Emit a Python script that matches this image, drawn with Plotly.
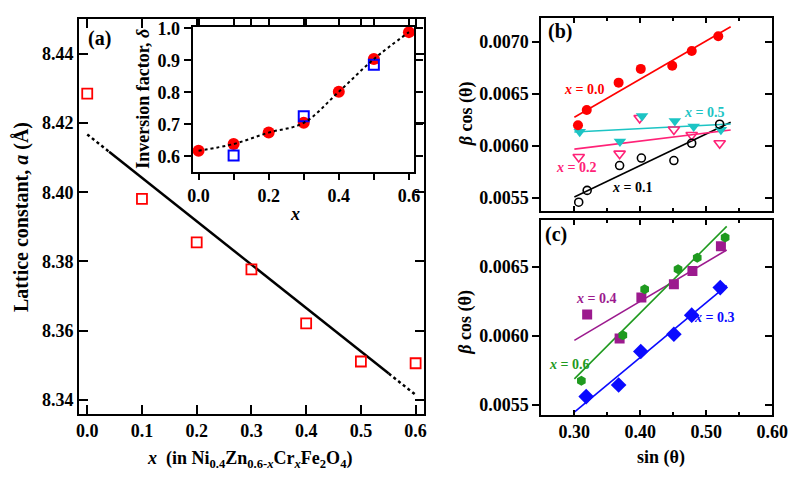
import numpy as np
import plotly.graph_objects as go

W, H = 808, 477

# ---------------- data ----------------
# Panel (a): lattice constant vs Cr content x
x_comp = [0.0, 0.1, 0.2, 0.3, 0.4, 0.5, 0.6]
lattice_a = [8.4285, 8.3981, 8.3855, 8.3777, 8.3621, 8.3511, 8.3506]

# Inset: inversion factor
x_inv_fill = [0.0, 0.1, 0.2, 0.3, 0.4, 0.5, 0.6]
delta_fill = [0.618, 0.639, 0.6745, 0.705, 0.802, 0.904, 0.988]
x_inv_sq = [0.1, 0.3, 0.5]
delta_sq = [0.603, 0.7255, 0.8865]

# Panel (b): Williamson-Hall, beta cos(theta) vs sin(theta)
sin_x00 = [0.3055, 0.3188, 0.3671, 0.4007, 0.4484, 0.4780, 0.5182]
bc_x00 = [0.006198, 0.006345, 0.006607, 0.006739, 0.006770, 0.006911, 0.007053]
sin_x01 = [0.3066, 0.3194, 0.3686, 0.4016, 0.4509, 0.4779, 0.5203]
bc_x01 = [0.005459, 0.005572, 0.005811, 0.005883, 0.005859, 0.006025, 0.006208]
sin_x02 = [0.3066, 0.3686, 0.3990, 0.4509, 0.4779, 0.5203]
bc_x02 = [0.005893, 0.005925, 0.006267, 0.006157, 0.006104, 0.006025]
sin_x05 = [0.3081, 0.3691, 0.4026, 0.4524, 0.4809, 0.5222]
bc_x05 = [0.006135, 0.006041, 0.006286, 0.006239, 0.006185, 0.006154]

# Panel (c)
sin_x04 = [0.3194, 0.3686, 0.4016, 0.4509, 0.4790, 0.5222]
bc_x04 = [0.006154, 0.005981, 0.006279, 0.006374, 0.006471, 0.006650]
sin_x06 = [0.3106, 0.3735, 0.4066, 0.4572, 0.4863, 0.5286]
bc_x06 = [0.005674, 0.006004, 0.006338, 0.006483, 0.006566, 0.006714]
sin_x03 = [0.3179, 0.3671, 0.4007, 0.4509, 0.4779, 0.5212]
bc_x03 = [0.005559, 0.005643, 0.005886, 0.006011, 0.006150, 0.006350]

# fit ranges
fit_a_solid = [0.04, 0.551]
fit_b_range = [0.30, 0.537]
fit_c_range = [0.30, 0.531]

# ---------------- style ----------------
FONT = "Liberation Serif"
RED = "#ff0000"
BLUE = "#0000ff"
PINK = "#ff2277"
CYAN = "#1cc4c4"
PURPLE = "#9c1a8e"
GREEN = "#1f9a1f"
BLUE2 = "#0a0aff"

def px(xp):
    return xp / W

def py(yp):
    return 1 - yp / H

fig = go.Figure()

# ---- panel (a)
ca = np.polyfit(x_comp, lattice_a, 1)
def fa(xx):
    return np.polyval(ca, np.array(xx))

xs_dot1 = np.array([x_comp[0], fit_a_solid[0]])
xs_sol = np.array(fit_a_solid)
xs_dot2 = np.array([fit_a_solid[1], x_comp[-1]])
fig.add_trace(go.Scatter(x=xs_dot1, y=fa(xs_dot1), mode="lines",
                         line=dict(color="black", width=2.5, dash="dot"),
                         xaxis="x", yaxis="y", showlegend=False))
fig.add_trace(go.Scatter(x=xs_sol, y=fa(xs_sol), mode="lines",
                         line=dict(color="black", width=2.5),
                         xaxis="x", yaxis="y", showlegend=False))
fig.add_trace(go.Scatter(x=xs_dot2, y=fa(xs_dot2), mode="lines",
                         line=dict(color="black", width=2.5, dash="dot"),
                         xaxis="x", yaxis="y", showlegend=False))
fig.add_trace(go.Scatter(x=x_comp, y=lattice_a, mode="markers",
                         marker=dict(symbol="square-open", size=10, color=RED,
                                     line=dict(width=1.8, color=RED)),
                         xaxis="x", yaxis="y", showlegend=False))

# ---- inset
fig.add_trace(go.Scatter(x=x_inv_fill, y=delta_fill, mode="markers",
                         marker=dict(symbol="circle", size=12, color=RED),
                         xaxis="x2", yaxis="y2", showlegend=False))
fig.add_trace(go.Scatter(x=x_inv_sq, y=delta_sq, mode="markers",
                         marker=dict(symbol="square-open", size=10, color=BLUE,
                                     line=dict(width=2, color=BLUE)),
                         xaxis="x2", yaxis="y2", showlegend=False))
fig.add_trace(go.Scatter(x=x_inv_fill, y=delta_fill, mode="lines",
                         line=dict(color="black", width=2, dash="dot", shape="spline"),
                         xaxis="x2", yaxis="y2", showlegend=False))

# ---- panels (b) & (c): fits + markers
def fit_line(xv, yv, xr, color, xa, ya):
    c = np.polyfit(xv, yv, 1)
    xx = np.array(xr)
    fig.add_trace(go.Scatter(x=xx, y=np.polyval(c, xx), mode="lines",
                             line=dict(color=color, width=1.6),
                             xaxis=xa, yaxis=ya, showlegend=False))

fit_line(sin_x00, bc_x00, fit_b_range, RED, "x3", "y3")
fit_line(sin_x01, bc_x01, fit_b_range, "black", "x3", "y3")
fit_line(sin_x02, bc_x02, fit_b_range, PINK, "x3", "y3")
fit_line(sin_x05, bc_x05, fit_b_range, CYAN, "x3", "y3")

fig.add_trace(go.Scatter(x=sin_x02, y=bc_x02, mode="markers",
                         marker=dict(symbol="triangle-down-open", size=10, color=PINK,
                                     line=dict(width=1.6, color=PINK)),
                         xaxis="x3", yaxis="y3", showlegend=False))
fig.add_trace(go.Scatter(x=sin_x05, y=bc_x05, mode="markers",
                         marker=dict(symbol="triangle-down", size=11, color=CYAN),
                         xaxis="x3", yaxis="y3", showlegend=False))
fig.add_trace(go.Scatter(x=sin_x00, y=bc_x00, mode="markers",
                         marker=dict(symbol="circle", size=10, color=RED),
                         xaxis="x3", yaxis="y3", showlegend=False))
fig.add_trace(go.Scatter(x=sin_x01, y=bc_x01, mode="markers",
                         marker=dict(symbol="circle-open", size=8, color="black",
                                     line=dict(width=1.6, color="black")),
                         xaxis="x3", yaxis="y3", showlegend=False))

fit_line(sin_x04, bc_x04, fit_c_range, PURPLE, "x4", "y4")
fit_line(sin_x06, bc_x06, fit_c_range, GREEN, "x4", "y4")
fit_line(sin_x03, bc_x03, fit_c_range, BLUE2, "x4", "y4")

fig.add_trace(go.Scatter(x=sin_x04, y=bc_x04, mode="markers",
                         marker=dict(symbol="square", size=10, color=PURPLE),
                         xaxis="x4", yaxis="y4", showlegend=False))
fig.add_trace(go.Scatter(x=sin_x06, y=bc_x06, mode="markers",
                         marker=dict(symbol="hexagon", size=10, color=GREEN),
                         xaxis="x4", yaxis="y4", showlegend=False))
fig.add_trace(go.Scatter(x=sin_x03, y=bc_x03, mode="markers",
                         marker=dict(symbol="diamond", size=12, color=BLUE2),
                         xaxis="x4", yaxis="y4", showlegend=False))

# invisible traces so the right-side tick overlays render
fig.add_trace(go.Scatter(x=[], y=[], xaxis="x3", yaxis="y5", showlegend=False))
fig.add_trace(go.Scatter(x=[], y=[], xaxis="x4", yaxis="y6", showlegend=False))

# ---------------- axes ----------------
tickfont = dict(family=FONT, size=18, color="black", weight="bold")

dom_a_x = [px(76), px(430)]
dom_a_y = [py(412.7), py(11)]
dom_in_x = [px(192.7), px(420)]
dom_in_y = [py(167), py(19)]
dom_bc_x = [px(550.7), px(787.7)]
dom_b_y = [py(206.5), py(10)]
dom_c_y = [py(413.5), py(215.5)]

common = dict(showgrid=False, zeroline=False, showline=True, linecolor="black",
              tickcolor="black", tickfont=tickfont)

fig.update_layout(
    xaxis=dict(domain=dom_a_x, anchor="y", range=[-0.015, 0.615],
               tickmode="array", tickvals=x_comp, tickformat=".1f",
               ticks="inside", ticklen=9, tickwidth=2, linewidth=2,
               mirror="ticks", **common),
    yaxis=dict(domain=dom_a_y, anchor="x", range=[8.336, 8.4501],
               dtick=0.02, tick0=8.34, tickformat=".2f",
               ticks="inside", ticklen=9, tickwidth=2, linewidth=2,
               mirror="ticks", **common),
    xaxis2=dict(domain=dom_in_x, anchor="y2", range=[-0.0167, 0.6147],
                dtick=0.2, tick0=0, tickformat=".1f",
                ticks="outside", ticklen=6, tickwidth=2, linewidth=2,
                minor=dict(dtick=0.1, ticks="outside", ticklen=6, tickwidth=2,
                           tickcolor="black"),
                mirror="ticks", **common),
    yaxis2=dict(domain=dom_in_y, anchor="x2", range=[0.551, 1.005],
                dtick=0.1, tick0=0.6, tickformat=".1f",
                ticks="outside", ticklen=7, tickwidth=2, linewidth=2,
                mirror="ticks", **common),
    xaxis3=dict(domain=dom_bc_x, anchor="y3", range=[0.25, 0.60],
                dtick=0.1, tick0=0.3, showticklabels=False,
                ticks="inside", ticklen=5, tickwidth=1.5, linewidth=2,
                minor=dict(dtick=0.05, ticks="inside", ticklen=3, tickwidth=1.5,
                           tickcolor="black"),
                mirror="ticks", **common),
    yaxis3=dict(domain=dom_b_y, anchor="x3", range=[0.005374, 0.0072293],
                dtick=0.0005, tick0=0.0055, tickformat=".4f",
                ticks="outside", ticklen=7, tickwidth=1.5, linewidth=2,
                mirror=True, **common),
    yaxis5=dict(overlaying="y3", anchor="x3", side="right",
                range=[0.005374, 0.0072293], dtick=0.0005, tick0=0.0055,
                ticks="inside", ticklen=7, tickwidth=1.5, tickcolor="black",
                showticklabels=False, showgrid=False, zeroline=False, showline=False),
    xaxis4=dict(domain=dom_bc_x, anchor="y4", range=[0.25, 0.60],
                dtick=0.1, tick0=0.3, tickformat=".2f",
                ticks="inside", ticklen=5, tickwidth=1.5, linewidth=2,
                minor=dict(dtick=0.05, ticks="inside", ticklen=3, tickwidth=1.5,
                           tickcolor="black"),
                mirror="ticks", **common),
    yaxis4=dict(domain=dom_c_y, anchor="x4", range=[0.0054286, 0.0068414],
                dtick=0.0005, tick0=0.0055, tickformat=".4f",
                ticks="outside", ticklen=7, tickwidth=1.5, linewidth=2,
                mirror=True, **common),
    yaxis6=dict(overlaying="y4", anchor="x4", side="right",
                range=[0.0054286, 0.0068414], dtick=0.0005, tick0=0.0055,
                ticks="inside", ticklen=7, tickwidth=1.5, tickcolor="black",
                showticklabels=False, showgrid=False, zeroline=False, showline=False),
)

# ---------------- text ----------------
def ann(text, xp, yp, size=18, color="black", angle=0):
    fig.add_annotation(text=text, x=px(xp), y=py(yp), xref="paper", yref="paper",
                       showarrow=False, textangle=angle, xanchor="center", yanchor="middle",
                       font=dict(family=FONT, size=size, color=color, weight="bold"))

ann("Lattice constant, <i>a</i> (Å)", 17, 213, size=20, angle=-90)
ann("<i>x</i>  (in Ni<sub>0.4</sub>Zn<sub>0.6-<i>x</i></sub>Cr<sub><i>x</i></sub>Fe<sub>2</sub>O<sub>4</sub>)",
    251, 459, size=18)
ann("Inversion factor, <i>δ</i>", 142, 92, size=18, angle=-90)
ann("<i>x</i>", 297.7, 210, size=18)
ann("(a)", 97.3, 30.7, size=20)
ann("(b)", 569.3, 24, size=20)
ann("(c)", 566, 230.7, size=20)
ann("<i>β</i> cos (θ)", 473.3, 107, size=18, angle=-90)
ann("<i>β</i> cos (θ)", 473.3, 319, size=18, angle=-90)
ann("sin (θ)", 673.7, 457, size=18)

ann("<i>x</i> = 0.0", 594.3, 83.3, size=14, color=RED)
ann("<i>x</i> = 0.2", 586.7, 162.7, size=14, color=PINK)
ann("<i>x</i> = 0.1", 644, 182.7, size=14, color="black")
ann("<i>x</i> = 0.5", 717.5, 106.7, size=14, color=CYAN)
ann("<i>x</i> = 0.4", 607.2, 295, size=14, color=PURPLE)
ann("<i>x</i> = 0.6", 579.2, 362.7, size=14, color=GREEN)
ann("<i>x</i> = 0.3", 728.3, 315, size=14, color=BLUE2)

fig.update_layout(width=W, height=H, autosize=False,
                  margin=dict(l=0, r=0, t=0, b=0),
                  plot_bgcolor="white", paper_bgcolor="white")

fig.write_html("out.html")
